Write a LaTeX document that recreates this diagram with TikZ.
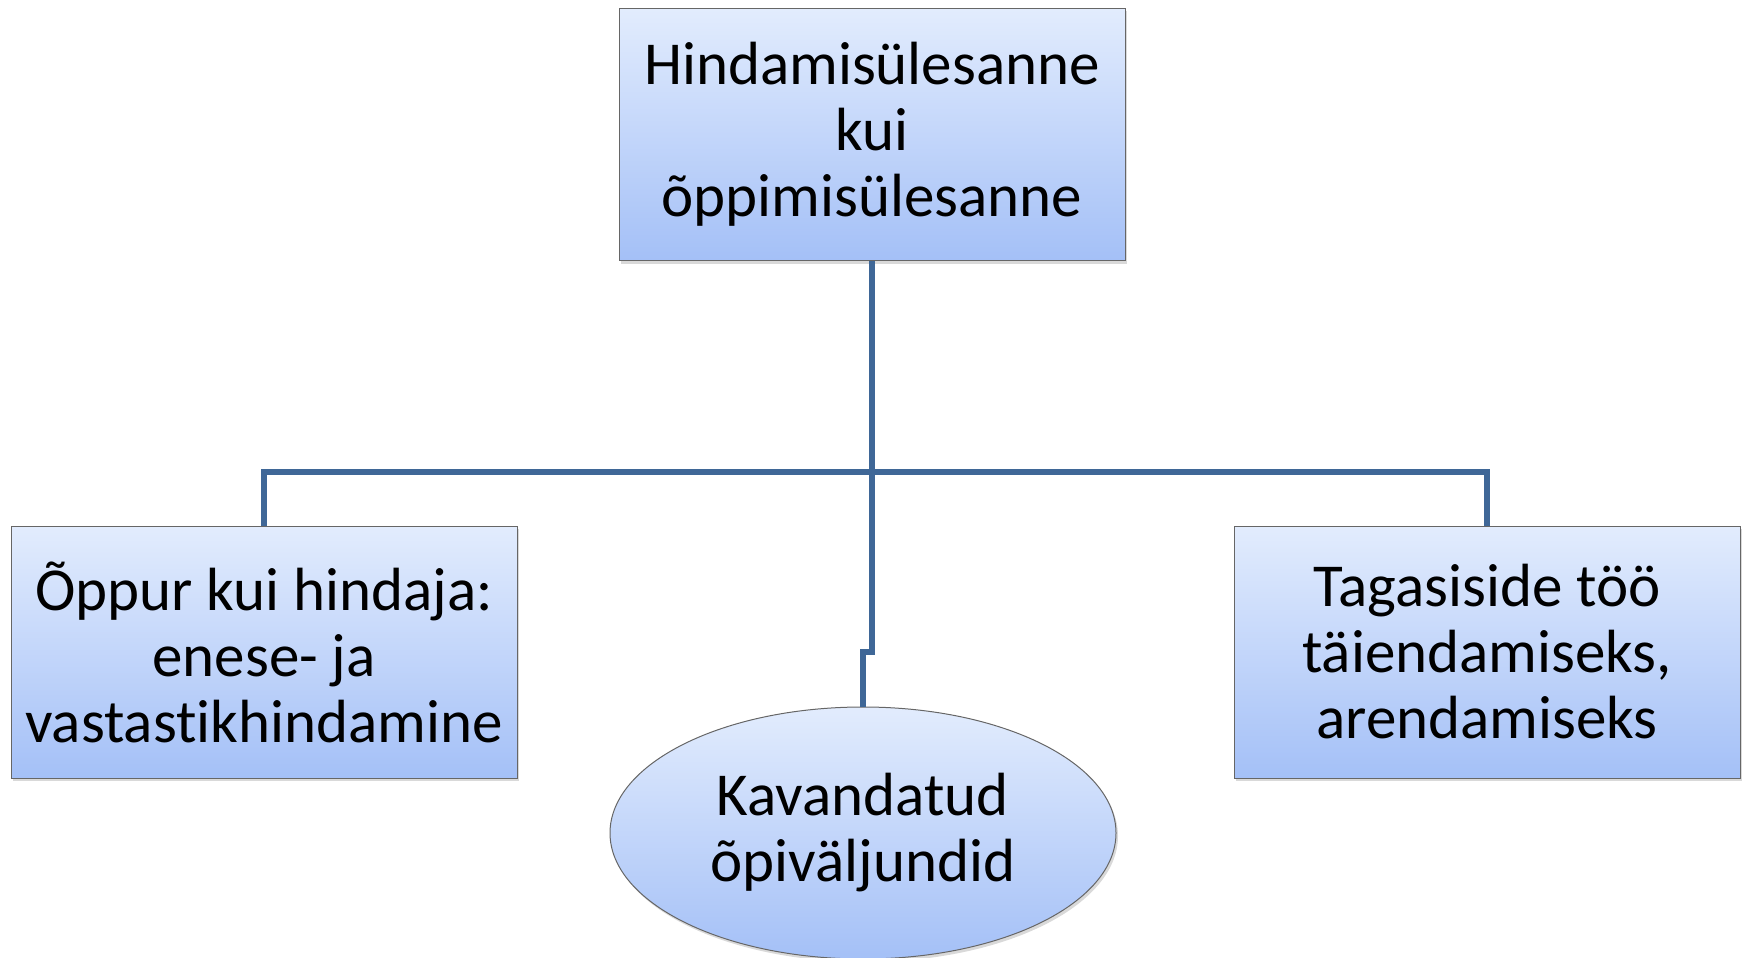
\documentclass[tikz,border=0pt]{standalone}
\usepackage{fontspec}
\setmainfont{Carlito}[Ligatures={NoCommon,NoContextual}]
\usetikzlibrary{shapes.geometric,shadows}
\definecolor{boxtop}{HTML}{E2ECFD}
\definecolor{boxbot}{HTML}{A4C0F7}
\definecolor{linkblue}{HTML}{3F6797}

\tikzset{
  box/.style={draw=black!60, line width=1pt, top color=boxtop, bottom color=boxbot,
    minimum width=506pt, minimum height=252pt, inner sep=0pt, align=center,
    font=\fontsize{61}{66}\selectfont,
    drop shadow={shadow xshift=2pt, shadow yshift=-3pt, opacity=0.3}},
  oval/.style={box, ellipse},
  link/.style={draw=linkblue, line width=6pt}
}

\begin{document}
\begin{tikzpicture}[x=1pt,y=-1pt]
\useasboundingbox (0,0) rectangle (1743,958);
\node[box] (task) at (872,134.5) {Hindamisülesanne\\kui\\õppimisülesanne};
\node[box] (peer) at (264,652) {Õppur kui hindaja:\\enese- ja\\vastastikhindamine};
\node[box] (feedback) at (1487,652) {Tagasiside töö\\täiendamiseks,\\arendamiseks};
\node[oval] (outcome) at (863,833) {Kavandatud\\õpiväljundid};
\coordinate (hub) at (task.south |- 0,472);
\draw[link] (task.south) -- (hub);
\draw[link] (hub) -| (peer.north);
\draw[link] (hub) -| (feedback.north);
\draw[link] (hub) -- ++(0,180) -| (outcome.north);
\end{tikzpicture}
\end{document}
